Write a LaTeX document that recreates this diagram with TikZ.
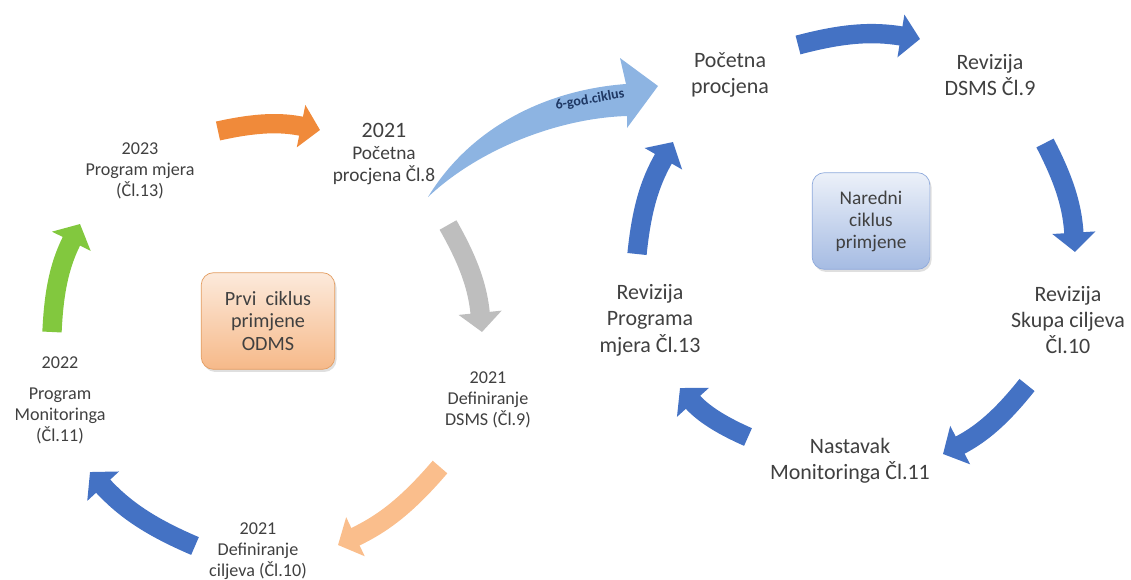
\documentclass[tikz,border=0pt]{standalone}
\usepackage{fontspec}
\setmainfont{Carlito}
\usetikzlibrary{arrows.meta,positioning,shadows}
\definecolor{odmsorange}{RGB}{240,138,58}
\definecolor{odmspeach}{RGB}{250,190,140}
\definecolor{odmsgray}{RGB}{190,190,190}
\definecolor{odmsgreen}{RGB}{130,200,62}
\definecolor{odmsblue}{RGB}{68,114,196}
\definecolor{odmslight}{RGB}{141,180,226}
\definecolor{odmsnavy}{RGB}{31,56,100}
\definecolor{odmstext}{RGB}{64,64,64}

\begin{document}
\begin{tikzpicture}[% one unit is one pixel of the original figure
		x=0.02cm,y=-0.02cm,
		every node/.style={align=center,text=odmstext},
		small/.style={font=\fontsize{10.3}{11.8}\selectfont},
		medium/.style={font=\fontsize{11}{12.5}\selectfont},
		big/.style={font=\fontsize{12.5}{15}\selectfont},
		cycle/.style={rectangle,rounded corners=7pt,minimum width=76pt,minimum height=55pt,
			drop shadow={opacity=0.25,shadow xshift=1pt,shadow yshift=-1.5pt}},
		cyc/.style={line width=11pt,-{Triangle[width=24pt,length=11pt]}}
	]
	\useasboundingbox (0,0) rectangle (1131,579);
	% first cycle
	\node[small](M13) at (140,171) {2023\\Program mjera\\(Čl.13)};
	\node[medium](P8) at (384,154) {{\fontsize{12.5}{14}\selectfont 2021}\\Početna\\procjena Čl.8};
	\node[small](M11) at (60,400) {2022\\[6pt]Program\\Monitoringa\\(Čl.11)};
	\node[small](D9) at (488,400) {2021\\Definiranje\\DSMS (Čl.9)};
	\node[small](D10) at (258,551) {2021\\Definiranje\\ciljeva (Čl.10)};
	\node[cycle,font=\fontsize{11.5}{13}\selectfont,draw=odmsorange!60!brown!80,top color=odmsorange!18,bottom color=odmsorange!60]
		(C1) at (268,321) {Prvi\ \ ciklus\\primjene\\ODMS};
	% next cycle
	\node[big](PP) at (730,75) {Početna\\procjena};
	\node[big](R9) at (990,75) {Revizija\\DSMS Čl.9};
	\node[big](R13) at (650,320) {Revizija\\Programa\\mjera Čl.13};
	\node[big](R10) at (1068,320) {Revizija\\Skupa ciljeva\\Čl.10};
	\node[big](N11) at (850,461) {Nastavak\\Monitoringa Čl.11};
	\node[cycle,medium,draw=odmsblue!60,top color=odmsblue!10,bottom color=odmsblue!48,minimum width=67pt]
		(C2) at (871,221) {Naredni\\ciklus\\primjene};

	% arrow ends
	\coordinate (a1) at (218,131); \coordinate (b1) at (320,130);
	\coordinate (a2) at (448,225); \coordinate (b2) at (482,332);
	\coordinate (a3) at (440,467); \coordinate (b3) at (338,545);
	\coordinate (a4) at (195,546); \coordinate (b4) at (90,472);
	\coordinate (a5) at (52,332); \coordinate (b5) at (80,224);
	\coordinate (a6) at (798,45); \coordinate (b6) at (920,39);
	\coordinate (a7) at (1045,143); \coordinate (b7) at (1075,252);
	\coordinate (a8) at (1027,385); \coordinate (b8) at (943,454);
	\coordinate (a9) at (748,437); \coordinate (b9) at (680,388);
	\coordinate (a10) at (637,254); \coordinate (b10) at (673,142);

	\draw[cyc,odmsorange] (a1) to[bend left=12] (b1);
	\draw[cyc,odmsgray] (a2) to[bend left=12] (b2);
	\draw[cyc,odmspeach] (a3) to[bend left=12] (b3);
	\draw[cyc,odmsblue] (a4) to[bend left=12] (b4);
	\draw[cyc,odmsgreen] (a5) to[bend left=12] (b5);
	\foreach \i in {6,...,10}
		\draw[cyc,odmsblue] (a\i) to[bend left=12] (b\i);

	% 6 year cycle
	\coordinate (t) at (428,197); \coordinate (h) at (658,86);
	\fill[odmslight] (t) .. controls (470,128) and (545,90) .. (626,84) -- (620,58) -- (h)
		-- (627,128) -- (627,116) .. controls (560,118) and (480,148) .. (t);
	\node[font=\bfseries\fontsize{8}{9}\selectfont,text=odmsnavy,rotate=10](G6) at (590,100) {6-god.ciklus};
\end{tikzpicture}
\end{document}
